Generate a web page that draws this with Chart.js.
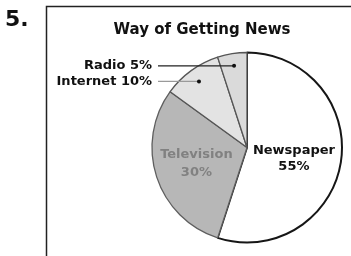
<!DOCTYPE html>
<html>
<head>
<meta charset="utf-8">
<script src="https://cdn.jsdelivr.net/npm/chart.js@4.4.1/dist/chart.umd.min.js"></script>
<style>
  html, body { margin: 0; padding: 0; background: #fff; }
  #wrap { position: relative; width: 351px; height: 256px; }
</style>
</head>
<body>
<div id="wrap"><canvas id="newsChart" width="351" height="256"></canvas></div>
<script>
// --- data ---
const categories = ['Newspaper', 'Television', 'Internet', 'Radio'];
const shares = [55, 30, 10, 5];
const chartTitle = 'Way of Getting News';
const questionNo = '5.';

// --- styles ---
const FONT = '"DejaVu Sans", "Liberation Sans", Arial, sans-serif';
const sliceColors = ['#ffffff', '#b7b7b7', '#e3e3e3', '#dadada'];
const sliceBorders = ['#161616', '#5e5e5e', '#555555', '#555555'];

// label placement per slice: inside (two lines) or outside with a leader line
const labelStyle = [
  { mode: 'inside', r: 0.5, shift: 4, gap: 16, color: '#111' },
  { mode: 'inside', r: 0.56, shift: 0, gap: 18, color: '#818181' },
  { mode: 'leader', r: 0.86, textX: 152, lineX: 158, lineColor: '#9a9a9a' },
  { mode: 'leader', r: 0.87, textX: 152, lineX: 158, lineColor: '#222' }
];

const decorPlugin = {
  id: 'decor',
  beforeDraw(chart) {
    const ctx = chart.ctx;
    ctx.save();
    // question number
    ctx.fillStyle = '#111';
    ctx.font = 'bold 22px ' + FONT;
    ctx.textBaseline = 'alphabetic';
    ctx.textAlign = 'left';
    ctx.fillText(questionNo, 5, 26);
    // box
    ctx.strokeStyle = '#222';
    ctx.lineWidth = 1.5;
    ctx.beginPath();
    ctx.moveTo(46.5, 258);
    ctx.lineTo(46.5, 6.5);
    ctx.lineTo(352, 6.5);
    ctx.stroke();
    // title
    ctx.font = 'bold 15px ' + FONT;
    ctx.textAlign = 'center';
    ctx.textBaseline = 'middle';
    ctx.fillText(chartTitle, 202, 30);
    ctx.restore();
  },
  afterDraw(chart) {
    const ctx = chart.ctx;
    const meta = chart.getDatasetMeta(0);
    ctx.save();
    meta.data.forEach((arc, i) => {
      const p = arc.getProps(['x', 'y', 'startAngle', 'endAngle', 'outerRadius'], true);
      const mid = (p.startAngle + p.endAngle) / 2;
      const st = labelStyle[i];
      const px = p.x + Math.cos(mid) * p.outerRadius * st.r;
      const py = p.y + Math.sin(mid) * p.outerRadius * st.r;
      const text = categories[i] + ' ' + shares[i] + '%';
      if (st.mode === 'inside') {
        ctx.fillStyle = st.color;
        ctx.font = 'bold 13px ' + FONT;
        ctx.textAlign = 'center';
        ctx.textBaseline = 'middle';
        ctx.fillText(categories[i], px, py - st.gap / 2 + st.shift);
        ctx.fillText(shares[i] + '%', px, py + st.gap / 2 + st.shift);
      } else {
        ctx.strokeStyle = st.lineColor;
        ctx.lineWidth = 1.3;
        ctx.beginPath();
        ctx.moveTo(st.lineX, py);
        ctx.lineTo(px, py);
        ctx.stroke();
        ctx.fillStyle = '#111';
        ctx.beginPath();
        ctx.arc(px, py, 2, 0, Math.PI * 2);
        ctx.fill();
        ctx.font = 'bold 13px ' + FONT;
        ctx.textAlign = 'right';
        ctx.textBaseline = 'middle';
        ctx.fillText(text, st.textX, py);
      }
    });
    ctx.restore();
  }
};

new Chart(document.getElementById('newsChart').getContext('2d'), {
  type: 'pie',
  data: {
    labels: categories,
    datasets: [{
      data: shares,
      backgroundColor: sliceColors,
      borderColor: sliceBorders,
      borderWidth: [2, 1.3, 1.3, 1.3]
    }]
  },
  options: {
    responsive: false,
    animation: false,
    devicePixelRatio: 1,
    layout: { padding: { left: 151, right: 8, top: 51, bottom: 12 } },
    plugins: {
      legend: { display: false },
      tooltip: { enabled: false },
      title: { display: false }
    }
  },
  plugins: [decorPlugin]
});
</script>
</body>
</html>
